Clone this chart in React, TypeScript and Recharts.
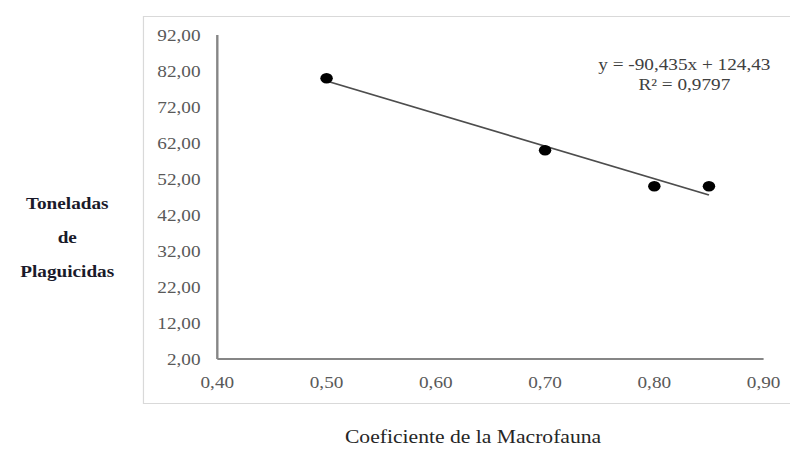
import { ScatterChart, Scatter, XAxis, YAxis, ReferenceLine } from 'recharts'

// Coeficiente de la Macrofauna vs toneladas de plaguicidas
const coeficiente = [0.5, 0.7, 0.8, 0.85]
const toneladas = [80, 60, 50, 50]

// trend line endpoints
const trendX = [0.5, 0.85]
const trendY = [79.21, 47.56]

const xTicks = [0.4, 0.5, 0.6, 0.7, 0.8, 0.9]
const yTicks = [2, 12, 22, 32, 42, 52, 62, 72, 82, 92]

const equationText = 'y = -90,435x + 124,43'
const r2Text = 'R² = 0,9797'
const yTitle = ['Toneladas', 'de', 'Plaguicidas']
const xTitle = 'Coeficiente de la Macrofauna'

const points = coeficiente.map((x, i) => ({ x, y: toneladas[i] }))
const segment = trendX.map((x, i) => ({ x, y: trendY[i] }))

const fmt = (v: number) => v.toFixed(2).replace('.', ',')
const serif = '"Liberation Serif", "Times New Roman", serif'
const tickStyle = { fill: '#595959', fontSize: 16, fontFamily: serif }
const axisStyle = { stroke: '#868686', strokeWidth: 2 }

// the reference is a stretched screenshot, so draw narrow and scale x by 1.2
const W = 658

export default function App() {
  return (
    <div style={{ position: 'absolute', left: 0, top: 0, width: 790, height: 450, overflow: 'hidden', background: '#fff' }}>
      <div style={{ position: 'absolute', left: 0, top: 0, width: W, height: 450, transform: `scaleX(${790 / W})`, transformOrigin: '0 0', fontFamily: serif }}>
        <div style={{ position: 'absolute', left: 119, top: 16, width: 600, height: 386, border: '1px solid #d9d9d9' }} />

        <div style={{ position: 'absolute', left: 0, top: 0 }}>
          <ScatterChart width={W} height={450} margin={{ top: 35, right: 22, bottom: 61, left: 0 }}>
            <XAxis
              type="number"
              dataKey="x"
              domain={[0.4, 0.9]}
              ticks={xTicks}
              tickFormatter={fmt}
              tick={tickStyle}
              tickLine={false}
              tickMargin={12}
              axisLine={axisStyle}
              height={30}
            />
            <YAxis
              type="number"
              dataKey="y"
              domain={[2, 92]}
              ticks={yTicks}
              tickFormatter={fmt}
              tick={tickStyle}
              tickLine={false}
              tickMargin={8}
              axisLine={axisStyle}
              width={181}
            />
            <ReferenceLine segment={segment} stroke="#4d4d4d" strokeWidth={1.6} ifOverflow="visible" />
            <Scatter
              data={points}
              isAnimationActive={false}
              shape={(p: any) => <circle cx={p.cx} cy={p.cy} r={5.2} fill="#000" />}
            />
          </ScatterChart>
        </div>

        <div style={{ position: 'absolute', left: 470, top: 55, width: 200, textAlign: 'center', fontSize: 16, lineHeight: '20px', color: '#404040' }}>
          <div>{equationText}</div>
          <div>{r2Text}</div>
        </div>

        <div style={{ position: 'absolute', left: -4, top: 187, width: 120, textAlign: 'center', fontSize: 16, fontWeight: 'bold', lineHeight: '34px', color: '#1a1a2a' }}>
          {yTitle.map(t => <div key={t}>{t}</div>)}
        </div>

        <div style={{ position: 'absolute', left: 194, top: 425, width: 400, textAlign: 'center', fontSize: 18, lineHeight: '24px', color: '#262626' }}>
          {xTitle}
        </div>
      </div>
    </div>
  )
}
